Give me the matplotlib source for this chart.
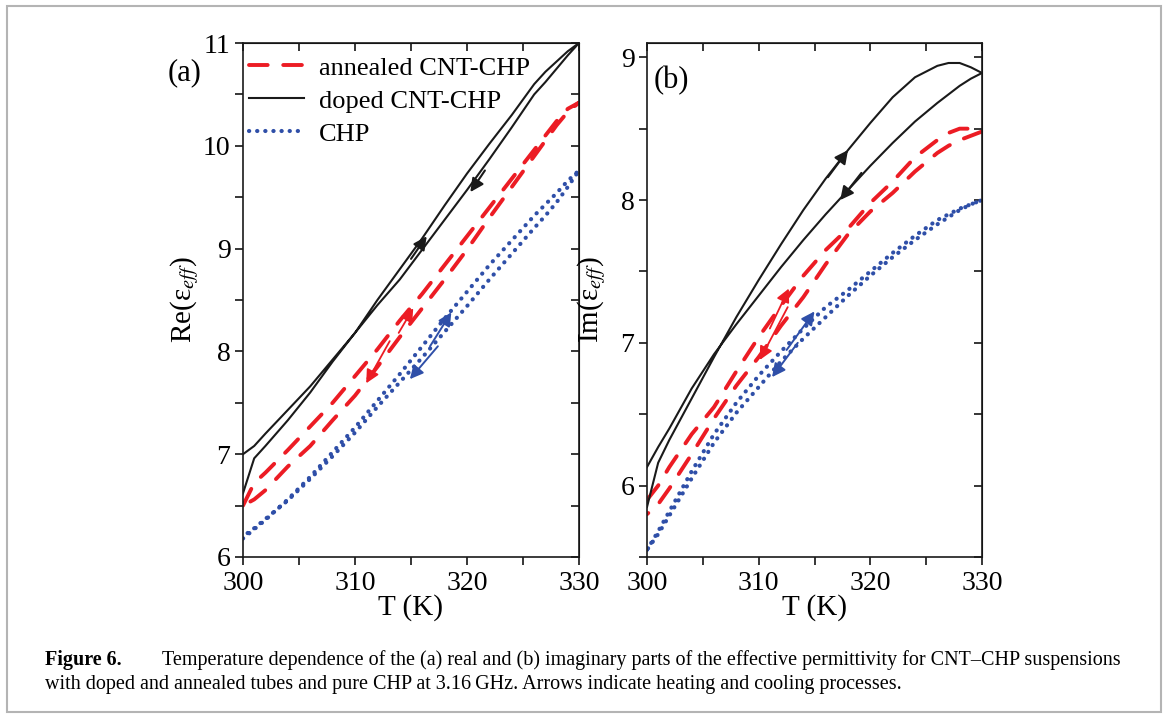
import matplotlib
matplotlib.use("Agg")
import matplotlib.pyplot as plt
from matplotlib.patches import Rectangle
import numpy as np

plt.rcParams['font.family'] = ['Liberation Serif', 'DejaVu Serif']
plt.rcParams['mathtext.fontset'] = 'stix'

# temperature grid (K), shared by all series
T = [300, 301, 302, 304, 306, 308, 310, 312, 314, 316, 318, 320, 322, 324, 326, 327, 328, 329, 330]

# (a) real part, heating and cooling branches
re_doped_heat = [6.62, 6.96, 7.08, 7.33, 7.60, 7.90, 8.18, 8.50, 8.80, 9.10, 9.42, 9.73, 10.02, 10.30, 10.60, 10.72, 10.82, 10.92, 11.00]
re_doped_cool = [7.00, 7.08, 7.20, 7.43, 7.66, 7.92, 8.18, 8.45, 8.70, 8.99, 9.28, 9.57, 9.87, 10.18, 10.50, 10.62, 10.75, 10.88, 11.00]
re_ann_heat = [6.50, 6.72, 6.82, 7.04, 7.27, 7.50, 7.76, 8.02, 8.30, 8.56, 8.84, 9.12, 9.40, 9.68, 9.96, 10.10, 10.24, 10.36, 10.42]
re_ann_cool = [6.50, 6.56, 6.65, 6.88, 7.08, 7.33, 7.57, 7.85, 8.14, 8.42, 8.70, 8.99, 9.30, 9.60, 9.90, 10.05, 10.20, 10.33, 10.42]
re_chp_heat = [6.18, 6.27, 6.36, 6.56, 6.78, 7.02, 7.26, 7.52, 7.78, 8.05, 8.32, 8.58, 8.84, 9.08, 9.32, 9.43, 9.54, 9.66, 9.76]
re_chp_cool = [6.20, 6.28, 6.37, 6.55, 6.76, 6.98, 7.21, 7.46, 7.70, 7.94, 8.19, 8.44, 8.70, 8.95, 9.20, 9.32, 9.45, 9.60, 9.76]

# (b) imaginary part
im_doped_heat = [5.85, 6.16, 6.32, 6.61, 6.90, 7.18, 7.44, 7.69, 7.93, 8.15, 8.35, 8.54, 8.72, 8.86, 8.94, 8.96, 8.96, 8.93, 8.89]
im_doped_cool = [6.13, 6.27, 6.40, 6.68, 6.92, 7.13, 7.33, 7.53, 7.72, 7.90, 8.07, 8.24, 8.40, 8.55, 8.68, 8.74, 8.80, 8.85, 8.89]
im_ann_heat = [5.90, 6.00, 6.13, 6.36, 6.55, 6.80, 7.04, 7.26, 7.47, 7.65, 7.80, 7.98, 8.13, 8.30, 8.42, 8.47, 8.50, 8.50, 8.48]
im_ann_cool = [5.80, 5.87, 5.98, 6.22, 6.47, 6.70, 6.90, 7.12, 7.32, 7.55, 7.76, 7.92, 8.05, 8.20, 8.33, 8.38, 8.42, 8.45, 8.48]
im_chp_heat = [5.55, 5.68, 5.82, 6.10, 6.36, 6.58, 6.77, 6.94, 7.10, 7.25, 7.37, 7.50, 7.63, 7.75, 7.86, 7.90, 7.94, 7.97, 8.00]
im_chp_cool = [5.55, 5.66, 5.79, 6.05, 6.30, 6.51, 6.69, 6.87, 7.03, 7.18, 7.33, 7.47, 7.60, 7.72, 7.83, 7.88, 7.93, 7.97, 8.00]

labels = ["annealed CNT-CHP", "doped CNT-CHP", "CHP"]

# heating / cooling arrows: (tail, head) in data coords
arrows_a = {
    "doped": [((315.0, 8.90), (316.4, 9.12)), ((321.6, 9.76), (320.3, 9.55))],
    "ann": [((313.9, 8.18), (315.2, 8.42)), ((313.1, 8.10), (311.0, 7.69))],
    "chp": [((316.7, 8.05), (318.6, 8.38)), ((317.4, 8.05), (314.9, 7.73))],
}
arrows_b = {
    "doped": [((316.2, 8.16), (318.0, 8.35)), ((319.2, 8.19), (317.3, 8.00))],
    "ann": [((311.0, 7.10), (312.7, 7.38)), ((312.6, 7.25), (310.1, 6.88))],
    "chp": [((312.5, 6.95), (315.0, 7.22)), ((313.5, 7.00), (311.2, 6.76))],
}

RED = "#ec1c24"
BLUE = "#2f4fa8"
BLACK = "#1a1a1a"

styles = {
    "ann": dict(color=RED, lw=2.8, dashes=(4.8, 4.0), dash_capstyle='round'),
    "doped": dict(color=BLACK, lw=1.5),
    "chp": dict(color=BLUE, lw=3.0, linestyle=(0, (0.05, 1.9)), dash_capstyle='round'),
}
arrow_lw = {"ann": 1.3, "doped": 1.5, "chp": 1.4}
arrow_col = {"ann": RED, "doped": BLACK, "chp": BLUE}

fig = plt.figure(figsize=(11.68, 7.18), dpi=100)
ax_a = fig.add_axes([243 / 1168, 1 - 557 / 718, 336 / 1168, 514 / 718])
ax_b = fig.add_axes([647 / 1168, 1 - 557 / 718, 335 / 1168, 514 / 718])


def loop(heat, cool):
    # heating run then cooling run back, as one continuous trace
    return np.concatenate([T, T[::-1]]), np.concatenate([heat, cool[::-1]])


def draw(ax, series, arrows):
    for key, lab, heat, cool in series:
        x, y = loop(heat, cool)
        ax.plot(x, y, label=lab, **styles[key])
        for tail, head in arrows[key]:
            ax.annotate("", xy=head, xytext=tail,
                        arrowprops=dict(arrowstyle="-|>", color=arrow_col[key],
                                        lw=arrow_lw[key], mutation_scale=20,
                                        shrinkA=0, shrinkB=0))


def style_axes(ax, ylim, ymajor, yminor):
    ax.set_xlim(300, 330)
    ax.set_ylim(*ylim)
    ax.set_xticks([300, 310, 320, 330])
    ax.set_xticks([305, 315, 325], minor=True)
    ax.set_yticks(ymajor)
    ax.set_yticks(yminor, minor=True)
    ax.tick_params(which='both', direction='out', length=6, width=1.1, labelsize=20)
    ax.tick_params(axis='x', pad=4)
    ax.tick_params(axis='y', pad=3)
    for s in ax.spines.values():
        s.set_linewidth(1.2)
        s.set_color(BLACK)
    # mirrored ticks pointing inward on top and right
    top = ax.secondary_xaxis('top')
    top.set_xticks([300, 310, 320, 330])
    top.set_xticks([305, 315, 325], minor=True)
    top.tick_params(which='both', direction='in', length=6, width=1.1, labeltop=False)
    right = ax.secondary_yaxis('right')
    right.set_yticks(ymajor)
    right.set_yticks(yminor, minor=True)
    right.tick_params(which='both', direction='in', length=6, width=1.1, labelright=False)
    ax.set_xlabel("T (K)", fontsize=21, labelpad=-1)


draw(ax_a, [("ann", labels[0], re_ann_heat, re_ann_cool),
            ("doped", labels[1], re_doped_heat, re_doped_cool),
            ("chp", labels[2], re_chp_heat, re_chp_cool)], arrows_a)
style_axes(ax_a, (6, 11), [6, 7, 8, 9, 10, 11], [6.5, 7.5, 8.5, 9.5, 10.5])
ax_a.set_ylabel("Re(ε$_{eff}$)", fontsize=21)
ax_a.yaxis.set_label_coords(-0.125, 0.5)
ax_a.legend(loc='upper left', bbox_to_anchor=(-0.03, 1.005), frameon=False,
            fontsize=19, handlelength=2.1, handletextpad=0.55, labelspacing=0.36,
            borderaxespad=0.2)

draw(ax_b, [("ann", labels[0], im_ann_heat, im_ann_cool),
            ("doped", labels[1], im_doped_heat, im_doped_cool),
            ("chp", labels[2], im_chp_heat, im_chp_cool)], arrows_b)
style_axes(ax_b, (5.5, 9.1), [6, 7, 8, 9], [5.5, 6.5, 7.5, 8.5])
ax_b.set_ylabel("Im(ε$_{eff}$)", fontsize=21)
ax_b.yaxis.set_label_coords(-0.115, 0.5)

fig.text(185 / 1168, 1 - 73 / 718, "(a)", fontsize=22, ha='center', va='center')
ax_b.text(0.02, 0.955, "(b)", transform=ax_b.transAxes, fontsize=22, ha='left', va='top')

# caption
fig.text(45 / 1168, 1 - 660 / 718, "Figure 6.", fontsize=14.5, fontweight='bold',
         ha='left', va='center')
fig.text(162 / 1168, 1 - 660 / 718,
         "Temperature dependence of the (a) real and (b) imaginary parts of the effective "
         "permittivity for CNT\u2013CHP suspensions",
         fontsize=14.5, ha='left', va='center')
fig.text(45 / 1168, 1 - 685 / 718,
         "with doped and annealed tubes and pure CHP at 3.16\u2009GHz. Arrows indicate heating "
         "and cooling processes.",
         fontsize=14.5, ha='left', va='center')

# thin grey frame around the whole figure
fig.patches.append(Rectangle((7 / 1168, 6 / 718), 1154 / 1168, 706 / 718,
                             transform=fig.transFigure, fill=False,
                             edgecolor='#b4b4b4', lw=1.5))

fig.savefig("out.png", dpi=100)
